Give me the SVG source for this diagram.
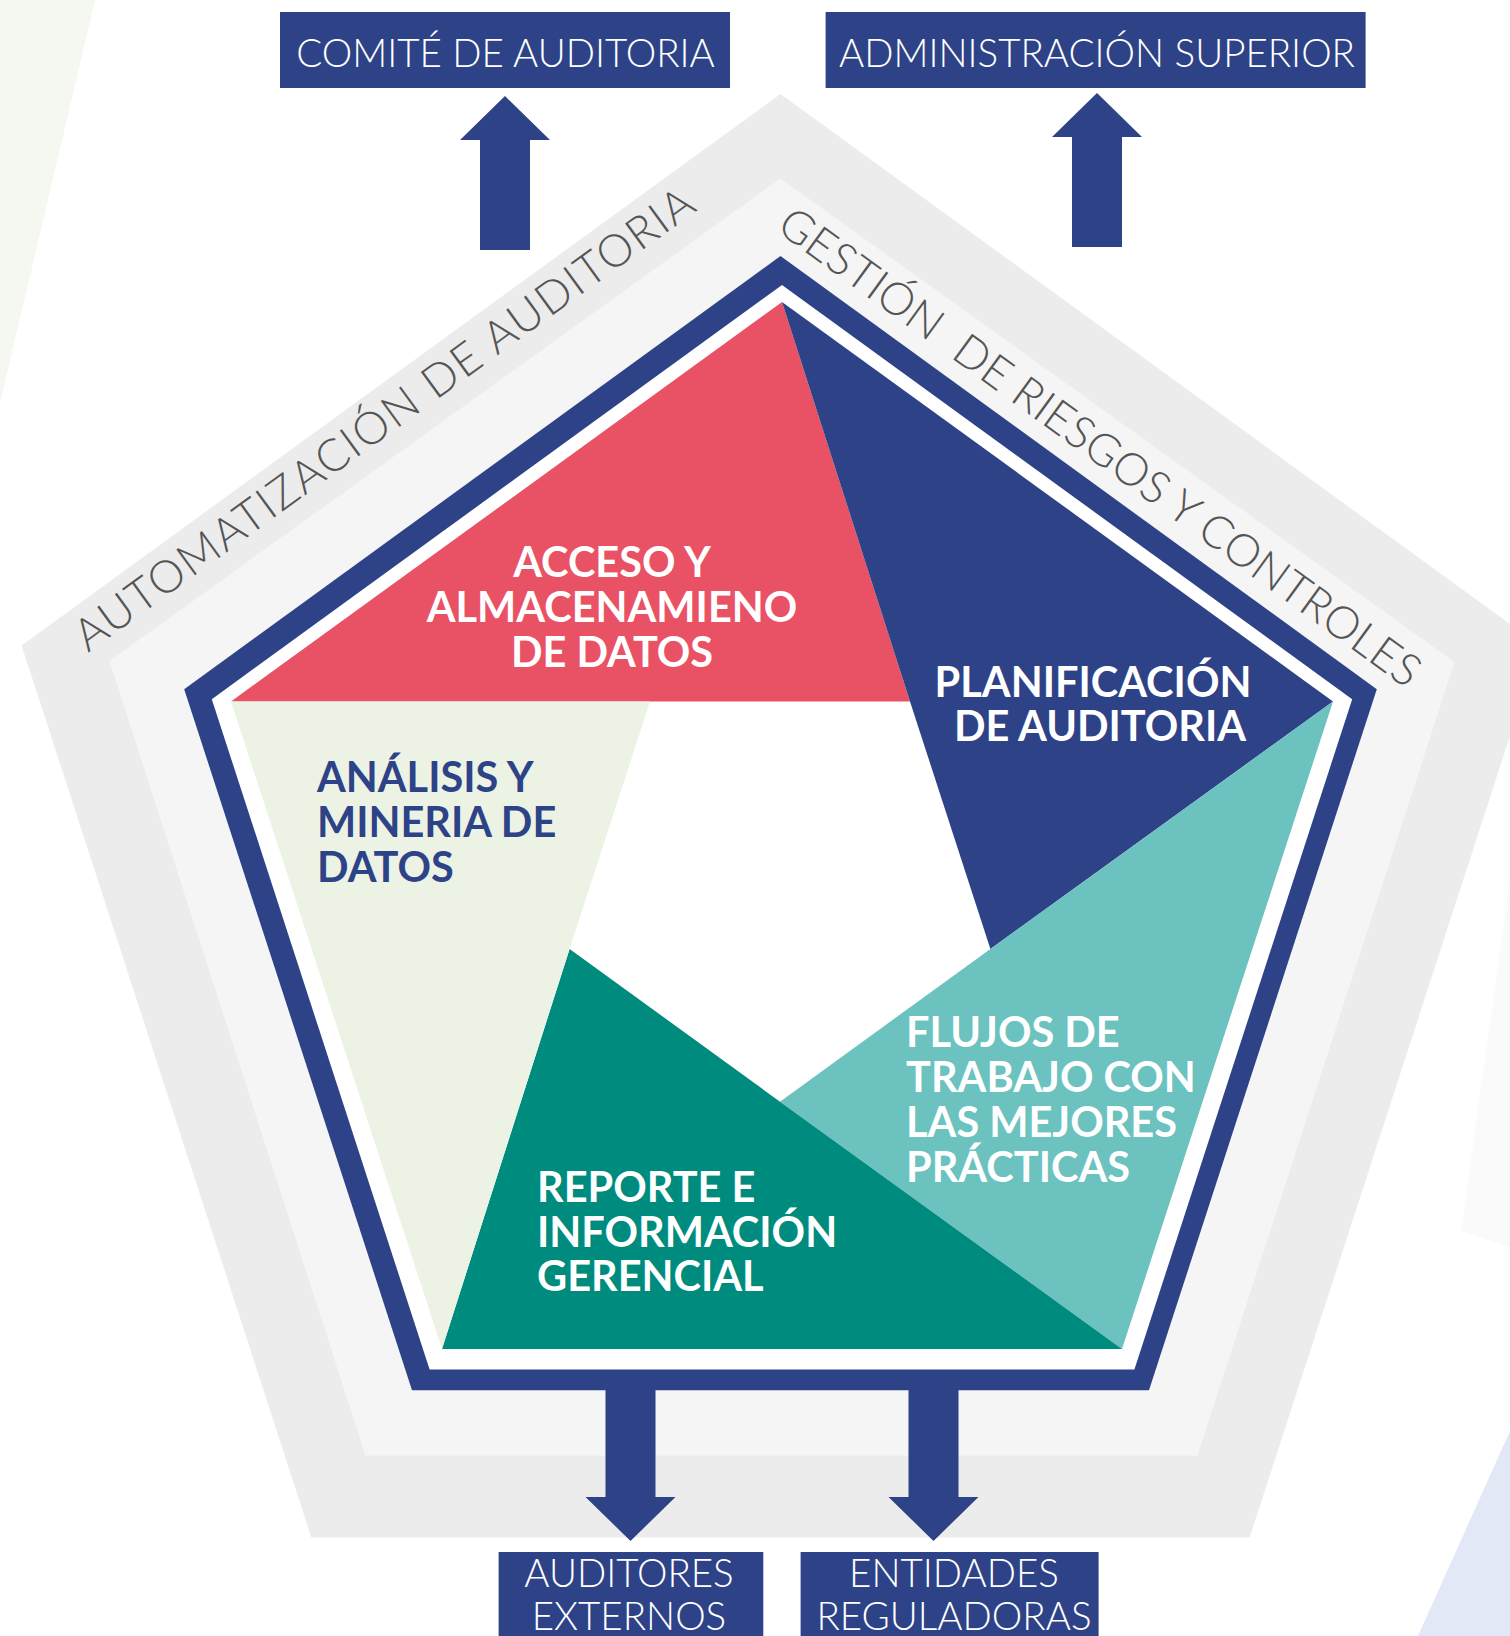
<svg xmlns="http://www.w3.org/2000/svg" width="1510" height="1636" viewBox="0 0 1510 1636">
  <style>
    .navy { fill: #2e4387; }
    .boxtxt { font-family: Lato, "Liberation Sans", sans-serif; font-weight: 300; fill: #ffffff; text-anchor: middle; font-size: 38.5px; }
    .bandtxt { font-family: Lato, "Liberation Sans", sans-serif; font-weight: 300; fill: #555555; font-size: 45px; }
    .inner { font-family: Lato, "Liberation Sans", sans-serif; font-weight: 700; font-size: 41.5px; }
    .w { fill: #ffffff; }
    .b { fill: #2e4387; }
  </style>
  <defs>
    <path id="arrow" d="M0,0 L45,44 L25,44 L25,154 L-25,154 L-25,44 L-45,44 Z"/>
  </defs>
  <rect width="1510" height="1636" fill="#ffffff"/>

  <g id="background">
    <polygon points="0,0 95,0 0,403" fill="#f4f8f0"/>
    <polygon points="1510,880 1461,1231 1510,1247" fill="#fafafa"/>
    <polygon points="1510,1431 1418,1636 1510,1636" fill="#e2e8f5"/>
  </g>

  <g id="frame">
    <polygon points="780.5,94 1539.4,645.4 1249.6,1537.6 311.4,1537.6 21.6,645.4" fill="#ececec"/>
    <polygon points="780.5,178.5 1454.5,662 1197.5,1455.5 365.5,1455.5 109.5,661" fill="#f5f5f5"/>
    <polygon points="780.5,256 1376.8,689.2 1149,1390.2 412,1390.2 184.2,689.2" fill="#2e4387"/>
    <polygon points="782,285 1352.2,699.2 1134.4,1369.5 429.6,1369.5 211.8,699.2" fill="#ffffff"/>
  </g>

  <g id="label-automatizacion">
    <text class="bandtxt" transform="translate(88,653) rotate(-36)" textLength="754" lengthAdjust="spacing">AUTOMATIZACIÓN DE AUDITORIA</text>
  </g>
  <g id="label-gestion">
    <text class="bandtxt" xml:space="preserve" transform="translate(775,230) rotate(36)" textLength="781" lengthAdjust="spacing">GESTIÓN  DE RIESGOS Y CONTROLES</text>
  </g>

  <g id="node-acceso">
    <polygon points="782,302 231,701.5 650,701.5 910,701.5" fill="#e95264"/>
    <text class="inner w" text-anchor="middle" x="612" y="576.7">ACCESO Y</text>
    <text class="inner w" text-anchor="middle" x="612" y="621.5">ALMACENAMIENO</text>
    <text class="inner w" text-anchor="middle" x="612" y="666.5">DE DATOS</text>
  </g>
  <g id="node-planificacion">
    <polygon points="782,302 910,701.5 990.4,948.9 1333,701.5" fill="#2e4387"/>
    <text class="inner w" text-anchor="middle" x="1093" y="697">PLANIFICACIÓN</text>
    <text class="inner w" text-anchor="middle" x="1100" y="741">DE AUDITORIA</text>
  </g>
  <g id="node-flujos">
    <polygon points="1333,701.5 990.4,948.9 780,1101.7 1122,1349" fill="#6bc2bf"/>
    <text class="inner w" x="906" y="1047">FLUJOS DE</text>
    <text class="inner w" x="906" y="1092">TRABAJO CON</text>
    <text class="inner w" x="906" y="1137">LAS MEJORES</text>
    <text class="inner w" x="906" y="1182">PRÁCTICAS</text>
  </g>
  <g id="node-reporte">
    <polygon points="1122,1349 780,1101.7 569.6,948.9 442,1349" fill="#008b7f"/>
    <text class="inner w" x="537" y="1202">REPORTE E</text>
    <text class="inner w" x="537" y="1247">INFORMACIÓN</text>
    <text class="inner w" x="537" y="1291">GERENCIAL</text>
  </g>
  <g id="node-analisis">
    <polygon points="442,1349 569.6,948.9 650,701.5 231,701.5" fill="#ecf3e4"/>
    <text class="inner b" x="317" y="792">ANÁLISIS Y</text>
    <text class="inner b" x="317" y="837">MINERIA DE</text>
    <text class="inner b" x="317" y="881.5">DATOS</text>
  </g>

  <g id="node-comite">
    <rect class="navy" x="280" y="12" width="450" height="76"/>
    <text class="boxtxt" x="505.5" y="66.7">COMITÉ DE AUDITORIA</text>
  </g>
  <g id="node-administracion">
    <rect class="navy" x="825.6" y="12" width="540" height="76"/>
    <text class="boxtxt" x="1097" y="66.7">ADMINISTRACIÓN SUPERIOR</text>
  </g>
  <g id="node-auditores">
    <rect class="navy" x="498.6" y="1552" width="264.7" height="90"/>
    <text class="boxtxt" x="629" y="1587">AUDITORES</text>
    <text class="boxtxt" x="629" y="1630">EXTERNOS</text>
  </g>
  <g id="node-entidades">
    <rect class="navy" x="800.6" y="1552" width="298" height="90"/>
    <text class="boxtxt" x="954" y="1587">ENTIDADES</text>
    <text class="boxtxt" x="954" y="1630">REGULADORAS</text>
  </g>

  <g id="connectors">
    <use href="#arrow" class="navy" transform="translate(505,96)"/>
    <use href="#arrow" class="navy" transform="translate(1097,93)"/>
    <use href="#arrow" class="navy" transform="translate(630.5,1541) rotate(180)"/>
    <use href="#arrow" class="navy" transform="translate(933.5,1541) rotate(180)"/>
  </g>
</svg>
